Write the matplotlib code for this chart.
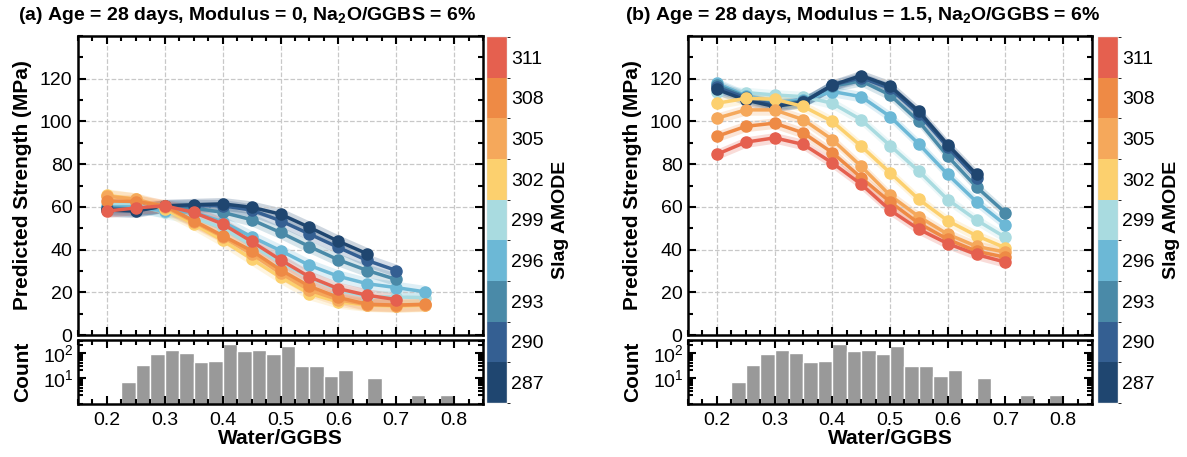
import numpy as np
import matplotlib
matplotlib.use("Agg")
import matplotlib.pyplot as plt
from matplotlib.colors import ListedColormap, BoundaryNorm
from matplotlib.ticker import MultipleLocator, LogLocator, NullFormatter
import matplotlib.cm as cm

plt.rcParams['font.family'] = ['Liberation Sans', 'DejaVu Sans']
plt.rcParams['mathtext.fontset'] = 'custom'
plt.rcParams['mathtext.rm'] = 'Liberation Sans'
plt.rcParams['mathtext.bf'] = 'Liberation Sans:bold'

# ---------------- data ----------------
amode = [287, 290, 293, 296, 299, 302, 305, 308, 311]
amode_colors = ['#1f4670', '#345f92', '#4a8aa8', '#6cb8d6', '#a9dbe0',
                '#fcd06e', '#f5a85b', '#ee8a45', '#e5604f']

x_left = [0.2, 0.25, 0.3, 0.35, 0.4, 0.45, 0.5, 0.55, 0.6, 0.65, 0.7, 0.75]
nan = np.nan
left_287 = [58.5, 58.0, 60.5, 61.0, 61.4, 59.8, 56.6, 50.4, 43.9, 38.0, nan, nan]
left_290 = [59.0, 58.5, 60.5, 60.5, 60.5, 58.5, 53.5, 47.3, 41.0, 34.9, 30.2, nan]
left_293 = [59.5, 59.0, 60.0, 59.5, 57.4, 54.0, 48.0, 41.4, 35.2, 30.2, 26.0, nan]
left_296 = [60.0, 60.0, 58.0, 57.5, 53.0, 46.0, 39.5, 32.6, 27.5, 24.0, 22.2, 20.2]
left_299 = [61.0, 61.0, 57.4, 55.0, 50.0, 42.0, 34.0, 27.0, 21.0, 18.0, 17.8, 17.5]
left_302 = [65.5, 63.5, 59.0, 52.0, 44.3, 35.6, 27.0, 19.4, 15.5, 14.0, 13.5, 14.0]
left_305 = [65.0, 63.6, 60.0, 53.0, 46.0, 38.0, 29.0, 21.0, 16.5, 14.2, 13.8, 14.2]
left_308 = [62.8, 62.5, 60.5, 53.5, 46.5, 39.5, 30.5, 22.8, 17.6, 14.4, 14.0, 14.4]
left_311 = [58.0, 59.5, 60.5, 57.4, 52.0, 43.8, 35.2, 27.2, 21.7, 18.6, 16.6, nan]

x_right = [0.2, 0.25, 0.3, 0.35, 0.4, 0.45, 0.5, 0.55, 0.6, 0.65, 0.7]
right_287 = [115.0, 110.0, 107.0, 109.0, 117.0, 121.5, 116.6, 104.7, 89.1, 75.2, nan]
right_290 = [116.0, 111.0, 107.5, 109.0, 117.0, 120.5, 115.5, 103.5, 88.0, 73.5, nan]
right_293 = [117.0, 111.5, 108.0, 109.5, 116.5, 119.0, 112.4, 100.0, 83.7, 69.3, 57.2]
right_296 = [117.8, 112.0, 109.0, 110.0, 114.0, 111.6, 102.3, 89.4, 75.2, 62.3, 51.6]
right_299 = [114.0, 113.5, 112.4, 111.6, 108.5, 100.8, 88.7, 76.7, 63.4, 53.8, 45.7]
right_302 = [108.5, 110.8, 110.4, 107.0, 100.0, 88.4, 76.0, 63.5, 53.5, 46.5, 40.8]
right_305 = [101.5, 105.4, 105.4, 100.8, 91.5, 79.0, 65.4, 55.4, 47.2, 41.5, 38.8]
right_308 = [93.0, 97.7, 99.2, 94.6, 85.4, 73.7, 62.3, 52.3, 44.8, 39.2, 36.4]
right_311 = [84.6, 90.3, 92.3, 89.2, 80.6, 70.6, 58.5, 49.5, 42.8, 37.7, 34.1]

hist_bin_starts = [0.2, 0.225, 0.25, 0.275, 0.3, 0.325, 0.35, 0.375, 0.4, 0.425,
                   0.45, 0.475, 0.5, 0.525, 0.55, 0.575, 0.6, 0.625, 0.65, 0.675,
                   0.7, 0.725, 0.75, 0.775, 0.8]
hist_counts = [1, 7, 31, 89, 131, 97, 44, 45, 222, 117,
               131, 85, 190, 29, 30, 12, 21, 0, 10, 1,
               1, 2, 0, 2, 0]

titles = [r"(a) Age = 28 days, Modulus = 0, Na$_\mathbf{2}$O/GGBS = 6%",
          r"(b) Age = 28 days, Modulus = 1.5, Na$_\mathbf{2}$O/GGBS = 6%"]

left_series = [left_287, left_290, left_293, left_296, left_299,
               left_302, left_305, left_308, left_311]
right_series = [right_287, right_290, right_293, right_296, right_299,
                right_302, right_305, right_308, right_311]

# ---------------- figure ----------------
W, H = 1187, 457
fig = plt.figure(figsize=(W / 100, H / 100), dpi=100)

def fr(x0, y0, x1, y1):
    return [x0 / W, 1 - y1 / H, (x1 - x0) / W, (y1 - y0) / H]

panels = [
    dict(main=fr(78, 36, 483, 335), hist=fr(78, 340, 483, 404), cbar=fr(487, 37, 507, 403),
         x=x_left, series=left_series, title_x=18, band=3.0),
    dict(main=fr(688, 36, 1092, 335), hist=fr(688, 340, 1092, 404), cbar=fr(1098, 37, 1118, 403),
         x=x_right, series=right_series, title_x=625, band=2.5),
]

TFS = 14     # tick labels
LFS = 15     # axis labels
CFS = 14     # colorbar label
TIT = 14     # titles
cmap = ListedColormap(amode_colors)
bounds = np.arange(amode[0] - 1.5, amode[-1] + 3, 3)
norm = BoundaryNorm(bounds, cmap.N)

draw_order = [4, 3, 2, 1, 0, 5, 6, 7, 8]

for pi, p in enumerate(panels):
    ax = fig.add_axes(p['main'])
    xs = np.array(p['x'])
    for i in draw_order:
        ys = np.array(p['series'][i], dtype=float)
        c = amode_colors[i]
        ax.fill_between(xs, ys - p['band'], ys + p['band'], color=c, alpha=0.22, lw=0)
        ax.plot(xs, ys, '-o', color=c, lw=2.5, ms=8, mec=c, zorder=3)
    ax.set_xlim(0.15, 0.85)
    ax.set_ylim(0, 140)
    ax.xaxis.set_major_locator(MultipleLocator(0.1))
    ax.xaxis.set_minor_locator(MultipleLocator(0.025))
    ax.yaxis.set_minor_locator(MultipleLocator(10))
    ax.set_yticks([0, 20, 40, 60, 80, 100, 120])
    ax.tick_params(axis='both', which='both', direction='in', top=True, right=True,
                   labelsize=TFS, width=1.5)
    ax.tick_params(which='major', length=6)
    ax.tick_params(which='minor', length=3.5)
    ax.tick_params(axis='x', labelbottom=False)
    ax.tick_params(axis='y', pad=4)
    ax.grid(True, which='major', ls='--', color='#c8c8c8', lw=0.9)
    for s in ax.spines.values():
        s.set_linewidth(1.8)
    ax.set_ylabel('Predicted Strength (MPa)', fontsize=LFS, fontweight='bold')
    ax.yaxis.set_label_coords(-0.113, 0.5)

    hx = fig.add_axes(p['hist'])
    hs = [b for b, c in zip(hist_bin_starts, hist_counts) if c > 0]
    hc = [c for c in hist_counts if c > 0]
    hx.bar(hs, hc, width=0.025, align='edge', color='#999999', edgecolor='white', lw=1.0)
    hx.set_yscale('log')
    hx.set_ylim(0.9, 320)
    hx.set_xlim(0.15, 0.85)
    hx.xaxis.set_minor_locator(MultipleLocator(0.025))
    hx.yaxis.set_minor_locator(LogLocator(base=10, subs=np.arange(2, 10), numticks=10))
    hx.yaxis.set_minor_formatter(NullFormatter())
    hx.set_yticks([10, 100])
    hx.set_xticks([0.2, 0.3, 0.4, 0.5, 0.6, 0.7, 0.8])
    hx.set_xticklabels(['0.2', '0.3', '0.4', '0.5', '0.6', '0.7', '0.8'])
    hx.tick_params(axis='both', which='both', direction='in', top=True, right=True,
                   labelsize=TFS, width=1.5)
    hx.tick_params(which='major', length=6)
    hx.tick_params(which='minor', length=3.5)
    hx.tick_params(axis='x', pad=6)
    hx.tick_params(axis='y', pad=3)
    for s in hx.spines.values():
        s.set_linewidth(1.8)
    hx.set_xlabel('Water/GGBS', fontsize=LFS, fontweight='bold', labelpad=0)
    hx.set_ylabel('Count', fontsize=LFS, fontweight='bold')
    hx.yaxis.set_label_coords(-0.113, 0.5)

    cax = fig.add_axes(p['cbar'])
    sm = cm.ScalarMappable(cmap=cmap, norm=norm)
    cb = fig.colorbar(sm, cax=cax, boundaries=bounds, ticks=amode)
    cb.ax.tick_params(length=0, labelsize=TFS, pad=3)
    cb.outline.set_linewidth(0.3)
    cb.outline.set_edgecolor('#dddddd')
    cb.set_label('Slag AMODE', fontsize=CFS, fontweight='bold', labelpad=6)

    fig.text(p['title_x'] / W, 1 - 16 / H, titles[pi], fontsize=TIT, fontweight='bold',
             ha='left', va='center')

fig.savefig('out.png', dpi=100)
